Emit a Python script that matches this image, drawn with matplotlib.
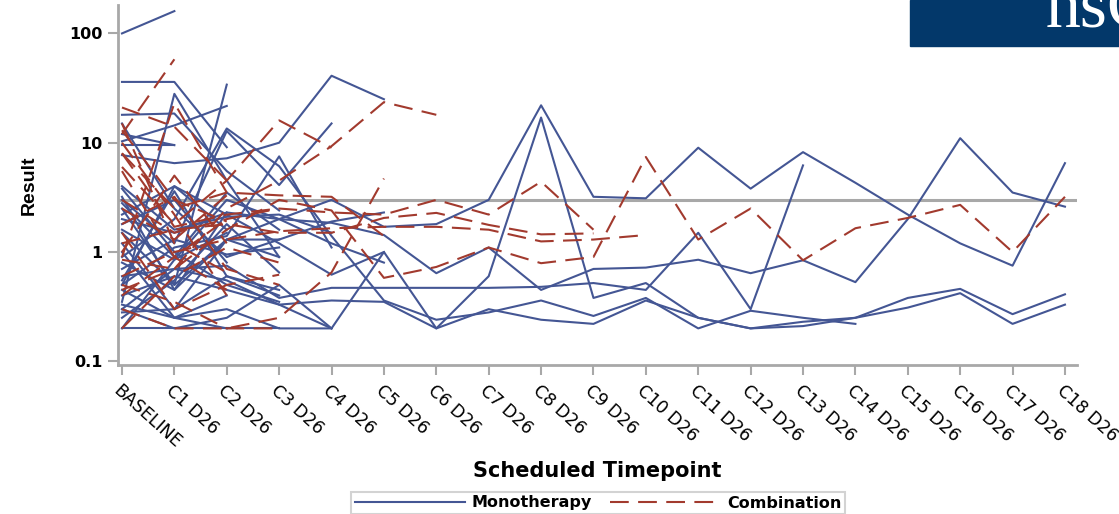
import numpy as np
import matplotlib.pyplot as plt
from matplotlib.patches import Rectangle
from matplotlib.lines import Line2D

# scheduled visits on the x axis
visits = ['BASELINE', 'C1 D26', 'C2 D26', 'C3 D26', 'C4 D26', 'C5 D26', 'C6 D26',
          'C7 D26', 'C8 D26', 'C9 D26', 'C10 D26', 'C11 D26', 'C12 D26', 'C13 D26',
          'C14 D26', 'C15 D26', 'C16 D26', 'C17 D26', 'C18 D26']

# one list per subject, values from BASELINE onwards
mono = [
    [100, 160],
    [36, 36, 9.1],
    [18, 18.5, 5.5, 2.4],
    [9.5, 9.5],
    [0.35, 28, 4.5, 0.9],
    [10.3, 14.4, 21.7],
    [1.5, 0.5, 34],
    [15, 2.5, 0.9, 1.3],
    [7.7, 6.5, 7.2, 10, 41, 25],
    [3.0, 1.2, 12.8, 4.1, 15],
    [0.9, 2.0, 13.5, 6.1, 1.4, 0.36, 0.24, 0.28, 0.36, 0.26, 0.38, 0.2, 0.29, 0.25, 0.22],
    [2.5, 0.5, 1.3, 2.0, 3.0, 1.7, 1.8, 3.0, 22, 3.2, 3.1, 9, 3.8, 8.2, 4.3, 2.2, 1.2, 0.75, 6.5],
    [2.0, 1.5, 2.3, 2.0, 1.85, 1.43, 0.64, 1.1, 0.45, 0.7, 0.72, 0.85, 0.64, 0.84, 0.53, 2.0, 11, 3.5, 2.6],
    [0.45, 0.25, 0.3, 0.2, 0.2, 1.0, 0.2, 0.6, 17, 0.38, 0.52, 0.25, 0.2, 0.21, 0.25, 0.31, 0.42, 0.22, 0.33],
    [0.4, 0.6, 0.45, 0.33, 0.36, 0.35, 0.2, 0.3, 0.24, 0.22, 0.36, 0.25, 0.2, 0.23, 0.25, 0.38, 0.46, 0.27, 0.41],
    [0.3, 0.7, 0.75, 0.38, 0.47, 0.47, 0.47, 0.47, 0.48, 0.52, 0.45, 1.5, 0.3, 6.2],
    [0.2, 0.2, 0.2, 0.2],
    [3.8, 1.0, 0.5, 0.35],
    [3.2, 0.45, 1.3, 1.3, 1.9, 2.3],
    [2.2, 4.0, 2.2, 1.2, 0.62, 1.0],
    [1.8, 3.0, 0.8],
    [1.2, 0.3, 0.6, 0.45],
    [0.2, 0.85, 1.5],
    [0.55, 3.6, 0.6, 0.4],
    [0.8, 0.45, 2.3],
    [0.28, 0.3, 1.3, 0.9],
    [0.6, 0.7, 0.55, 0.33, 0.2],
    [0.33, 0.25, 0.4],
    [1.0, 0.25, 0.2],
    [0.5, 4.0, 1.6],
    [12, 9.5],
    [4.0, 1.6, 2.1, 2.2, 1.5],
    [0.7, 1.3, 0.95, 1.1],
    [1.6, 0.85, 3.0, 2.0, 1.2, 0.8],
    [0.25, 0.55, 1.8, 0.65],
    [0.5, 1.1, 1.4, 7.5, 1.1],
    [2.8, 0.9, 3.5, 1.6],
    [0.3, 0.2, 0.25, 0.5, 0.2],
]

combo = [
    [12, 58],
    [21, 14, 4.5],
    [15, 1.2, 0.65],
    [13, 3.0, 1.9],
    [10, 2.2, 0.4],
    [8, 1.7, 2.2, 2.5],
    [6, 1.8, 4.5, 16, 9],
    [5.5, 0.9, 2.0],
    [2.5, 1.3, 3.3],
    [1.8, 3.2, 0.7, 0.5],
    [0.9, 23, 3.5],
    [0.45, 0.7, 2.5, 4.5, 9.3, 23.5, 18],
    [0.3, 0.2, 0.2, 0.25, 0.65, 4.7],
    [0.85, 0.7, 1.6, 3.0, 2.4, 0.58, 0.73, 1.1, 0.79, 0.9, 7.4, 1.3, 2.5, 0.84, 1.65, 2.05, 2.7, 1.0, 3.2],
    [3, 1.5, 2, 2.5, 2.3, 2.2, 3.0, 2.2, 4.4, 1.6],
    [1.2, 1.6, 1.8, 1.5, 1.5, 2.05, 2.28, 1.77, 1.45, 1.48],
    [0.6, 1.0, 1.3, 1.55, 1.65, 1.7, 1.7, 1.6, 1.25, 1.3, 1.43],
    [8, 2.5, 3.5, 3.3, 3.2, 1.4],
    [1.5, 0.3, 0.5, 0.62],
    [0.5, 0.35, 0.2, 0.2],
    [0.4, 0.9, 0.45],
    [1.0, 5, 1.2],
    [0.2, 0.6, 1.1, 0.8],
]

ref_value = 3

blue = '#445694'
red = '#a23a2e'
grey = '#a8a8a8'

fig = plt.figure(figsize=(11.19, 5.14), dpi=100)
ax = fig.add_axes([118 / 1119, 1 - 365 / 514, 959 / 1119, 360 / 514])

ax.axhline(ref_value, color=grey, lw=2.2, zorder=1)

for subj in mono:
    ax.plot(range(len(subj)), subj, color=blue, lw=1.5, zorder=2)
for subj in combo:
    ax.plot(range(len(subj)), subj, color=red, lw=1.5, dashes=(9, 4.5), zorder=3)

ax.set_yscale('log')
ax.set_ylim(0.0925, 182)
ax.set_xlim(-0.076, 18.23)
ax.set_yticks([0.1, 1, 10, 100])
ax.set_yticklabels(['0.1', '1', '10', '100'], fontsize=11.5, fontweight='bold')
ax.yaxis.set_minor_locator(plt.NullLocator())

ax.set_xticks(range(len(visits)))
ax.set_xticklabels(visits, fontsize=12.5, rotation=-42, ha='left', va='top',
                   rotation_mode='anchor')

for side in ['top', 'right']:
    ax.spines[side].set_visible(False)
for side in ['left', 'bottom']:
    ax.spines[side].set_color(grey)
    ax.spines[side].set_linewidth(2)
ax.tick_params(axis='both', color=grey, width=1.5, length=7)
ax.tick_params(axis='y', pad=4)
ax.tick_params(axis='x', pad=5)

ax.set_ylabel('Result', fontsize=14, fontweight='bold', family='Liberation Sans')
ax.yaxis.set_label_coords(-0.084, 0.5)

fig.text(597.5 / 1119, 1 - 471 / 514, 'Scheduled Timepoint', fontsize=15,
         fontweight='bold', ha='center', va='center')

handles = [Line2D([], [], color=blue, lw=1.5),
           Line2D([], [], color=red, lw=1.5, dashes=(9, 4.5))]
leg = fig.legend(handles, ['Monotherapy', 'Combination'], loc='center',
                 bbox_to_anchor=(598 / 1119, 1 - 503 / 514), ncol=2,
                 prop={'weight': 'bold', 'size': 11.5}, frameon=True, fancybox=False,
                 handlelength=6.9, handletextpad=0.45, columnspacing=1.1,
                 borderpad=0.25, borderaxespad=0)
leg.get_frame().set_edgecolor('#c8c8c8')
leg.get_frame().set_linewidth(1.5)

# corner banner
fig.patches.append(Rectangle((910 / 1119, 1 - 46 / 514), 209 / 1119, 46 / 514,
                             transform=fig.transFigure, color='#03386a', zorder=5))
fig.text(1045 / 1119, 1 - 27 / 514, 'hsC', color='white', fontsize=50,
         family='Liberation Serif', ha='left', va='baseline', zorder=6)

fig.savefig('out.png', dpi=100)
